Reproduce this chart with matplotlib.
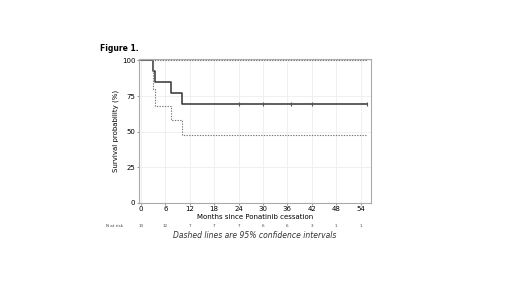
import matplotlib
matplotlib.use('Agg')
import matplotlib.pyplot as plt

# Kaplan-Meier estimate (step points, months / survival %)
km_time = [0, 3.0, 3.5, 7.5, 10.0, 55.5]
km_surv = [100, 92.3, 84.6, 76.9, 69.2, 69.2]

# 95% CI
lower_time = [0, 3.0, 3.5, 7.5, 10.0, 55.5]
lower_ci = [100, 80, 68, 58, 48, 48]
upper_time = [0, 55.5]
upper_ci = [100, 100]

# censored observations
censor_time = [24, 30, 37, 42, 55.5]
censor_surv = [69.2, 69.2, 69.2, 69.2, 69.2]

x_ticks = [0, 6, 12, 18, 24, 30, 36, 42, 48, 54]
y_ticks = [0, 25, 50, 75, 100]
at_risk = [13, 12, 7, 7, 7, 6, 6, 3, 1, 1]

fig = plt.figure(figsize=(5.2, 2.92), dpi=100)
ax = fig.add_axes([0.267, 0.305, 0.446, 0.493])

ax.step(km_time, km_surv, where='post', color='#333333', lw=1.1)
ax.step(lower_time, lower_ci, where='post', color='#777777', lw=0.8, ls=(0, (1.2, 1.2)))
ax.step(upper_time, upper_ci, where='post', color='#777777', lw=0.8, ls=(0, (1.2, 1.2)))
ax.plot(censor_time, censor_surv, ls='none', marker='|', ms=3, color='#555555', mew=0.8)

ax.set_xlim(-0.5, 56.5)
ax.set_ylim(0, 101)
ax.set_xticks(x_ticks)
ax.set_yticks(y_ticks)
ax.grid(True, color='#eeeeee', lw=0.6)
ax.set_axisbelow(True)
ax.tick_params(labelsize=5, length=1.5, pad=1, color='#999999')
for s in ax.spines.values():
    s.set_color('#aaaaaa')
    s.set_linewidth(0.8)
ax.set_xlabel('Months since Ponatinib cessation', fontsize=5, labelpad=1)
ax.set_ylabel('Survival probability (%)', fontsize=5, labelpad=2)

# number at risk row
for t, n in zip(x_ticks, at_risk):
    ax.text(t, -16, str(n), fontsize=3, ha='center', va='center',
            transform=ax.transData, color='#444444')
ax.text(-4.5, -16, 'N at risk', fontsize=3, ha='right', va='center', color='#444444')

fig.text(0.192, 0.825, 'Figure 1.', fontsize=5.5, fontweight='bold')
fig.text(0.49, 0.195, 'Dashed lines are 95% confidence intervals', fontsize=5.5,
         style='italic', ha='center', va='center', color='#333333')

fig.savefig('out.png', dpi=100)
